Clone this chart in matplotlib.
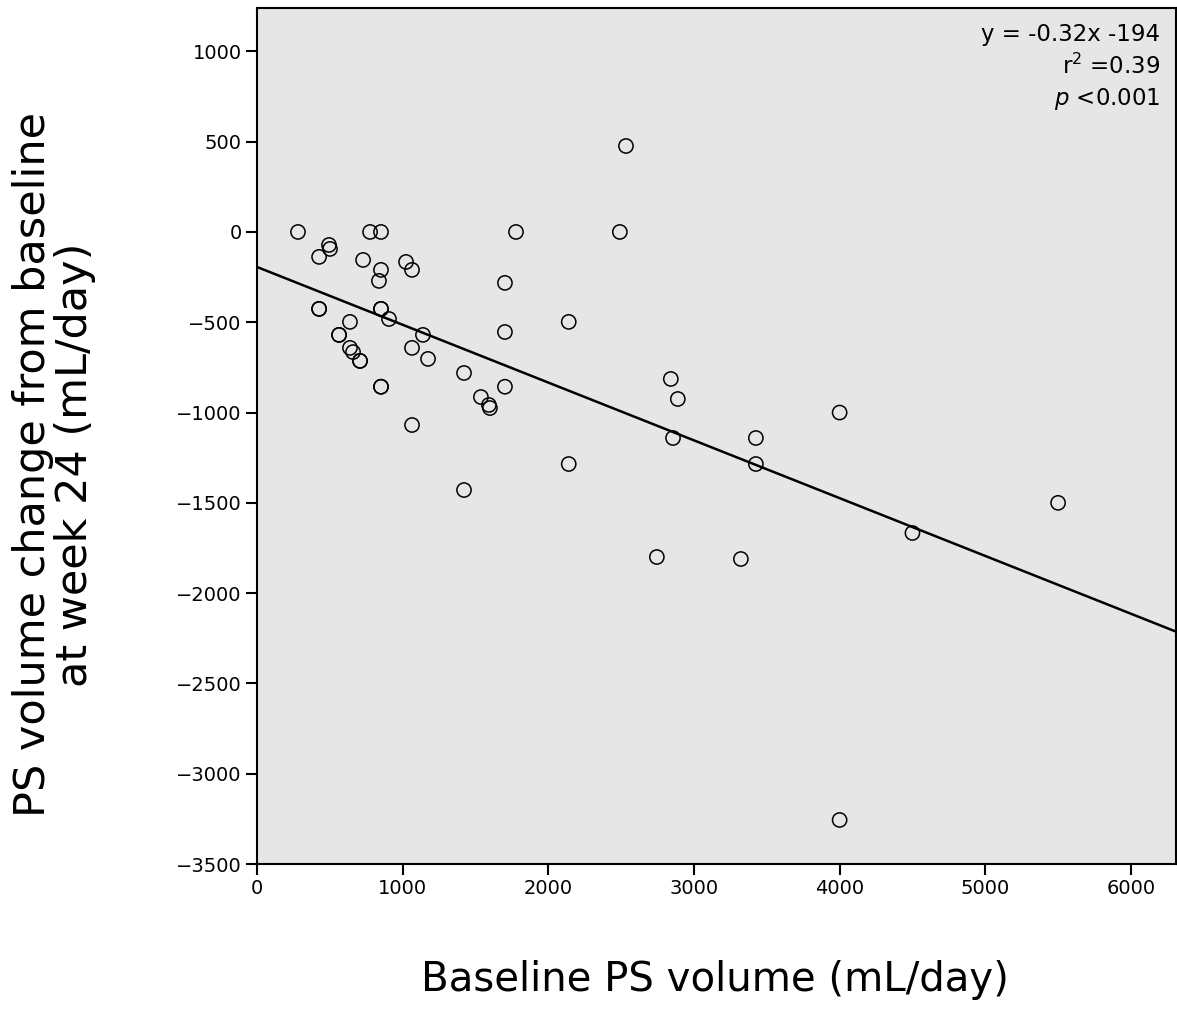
import numpy as np
from matplotlib import pyplot as plt

# baseline PS volume (mL/day) vs change at week 24
baseline = [281, 494, 501, 426, 776, 851, 1778, 728, 851, 837, 1023, 1064,
            1702, 426, 426, 851, 851, 906, 638, 1139, 1702, 563, 563, 638,
            659, 1064, 707, 707, 1174, 1421, 851, 851, 1702, 1537, 1592, 1599,
            1064, 1421, 2140, 2491, 2533, 2140, 2841, 2889, 2856, 3425, 3425,
            4000, 4500, 2745, 3322, 5500, 4000]
change = [0, -72, -94, -138, 0, 0, 0, -155, -210, -271, -166, -210,
          -282, -426, -426, -426, -426, -482, -498, -570, -554, -570, -570, -642,
          -665, -642, -714, -714, -703, -781, -857, -857, -857, -914, -958, -975,
          -1069, -1429, -498, 0, 476, -1285, -814, -925, -1141, -1141, -1285,
          -1000, -1667, -1800, -1811, -1500, -3256]

slope = -0.32
intercept = -194
x_ticks = [0, 1000, 2000, 3000, 4000, 5000, 6000]
y_ticks = [1000, 500, 0, -500, -1000, -1500, -2000, -2500, -3000, -3500]

fig = plt.figure(figsize=(11.77, 10.28), dpi=100)
ax = fig.add_axes([0.2184, 0.1595, 0.7808, 0.8327])
ax.set_facecolor('#e6e6e6')

ax.scatter(baseline, change, s=105, facecolors='none', edgecolors='black',
           linewidths=1.1, zorder=3)

# fit line
xl = np.array([0, 6310])
ax.plot(xl, slope * xl + intercept, color='black', linewidth=1.8, zorder=2)

ax.set_xlim(0, 6310)
ax.set_ylim(-3500, 1240)
ax.set_xticks(x_ticks)
ax.set_yticks(y_ticks)
ax.set_yticklabels([str(v).replace('-', '\u2212') for v in y_ticks])
ax.tick_params(direction='out', length=8, width=1.5, labelsize=14, pad=3)
for sp in ax.spines.values():
    sp.set_linewidth(1.5)

ax.text(0.983, 0.983, 'y = -0.32x -194\nr$^2$ =0.39\n$\\it{p}$ <0.001',
        transform=ax.transAxes, ha='right', va='top', fontsize=16.5,
        linespacing=1.4)

fig.text(0.607, 0.027, 'Baseline PS volume (mL/day)', ha='center', va='bottom',
         fontsize=29)
fig.text(0.046, 0.548, 'PS volume change from baseline\nat week 24 (mL/day)',
         ha='center', va='center', rotation=90, fontsize=31, linespacing=1.0)

fig.savefig('out.png', dpi=100)
